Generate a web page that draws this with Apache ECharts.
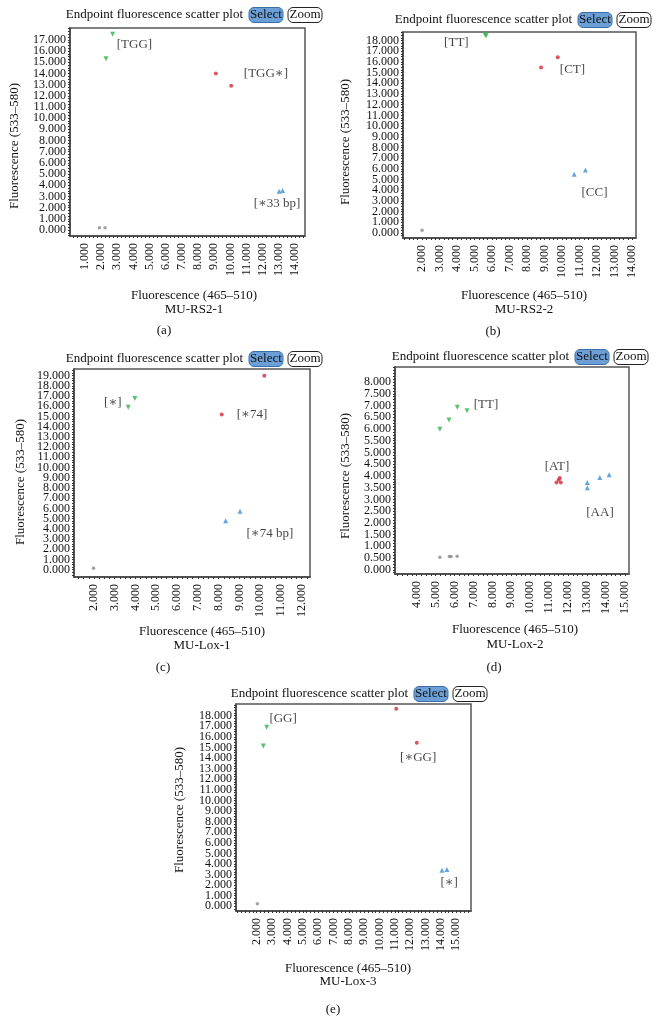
<!DOCTYPE html>
<html>
<head>
<meta charset="utf-8">
<script src="https://cdn.jsdelivr.net/npm/echarts@6/dist/echarts.min.js"></script>
<style>
  html, body { margin: 0; padding: 0; background: #fff; }
  #chart { width: 660px; height: 1030px; }
</style>
</head>
<body>
<div id="chart"></div>
<script>
// tick labels
const xTicksA = [1, 2, 3, 4, 5, 6, 7, 8, 9, 10, 11, 12, 13, 14];
const yTicksA = [0, 1, 2, 3, 4, 5, 6, 7, 8, 9, 10, 11, 12, 13, 14, 15, 16, 17];
const xTicksB = [2, 3, 4, 5, 6, 7, 8, 9, 10, 11, 12, 13, 14];
const yTicksB = [0, 1, 2, 3, 4, 5, 6, 7, 8, 9, 10, 11, 12, 13, 14, 15, 16, 17, 18];
const xTicksC = [2, 3, 4, 5, 6, 7, 8, 9, 10, 11, 12];
const yTicksC = [0, 1, 2, 3, 4, 5, 6, 7, 8, 9, 10, 11, 12, 13, 14, 15, 16, 17, 18, 19];
const xTicksD = [4, 5, 6, 7, 8, 9, 10, 11, 12, 13, 14, 15];
const yTicksD = [0, 0.5, 1, 1.5, 2, 2.5, 3, 3.5, 4, 4.5, 5, 5.5, 6, 6.5, 7, 7.5, 8];
const xTicksE = [2, 3, 4, 5, 6, 7, 8, 9, 10, 11, 12, 13, 14, 15];
const yTicksE = [0, 1, 2, 3, 4, 5, 6, 7, 8, 9, 10, 11, 12, 13, 14, 15, 16, 17, 18];

// points [x, y]
const greenA = [[2.71, 17.5], [2.30, 15.3]];
const redA = [[9.10, 14.0], [10.05, 12.9]];
const blueA = [[13.02, 3.46], [13.23, 3.52]];
const grayA = [[1.89, 0.2], [2.24, 0.2]];

const greenB = [[5.60, 18.55], [5.66, 18.45]];
const redB = [[9.75, 16.44], [8.80, 15.47]];
const blueB = [[10.69, 5.49], [11.33, 5.90]];
const grayB = [[2.0, 0.25]];

const greenC = [[3.97, 16.75], [3.65, 15.9]];
const redC = [[10.2, 19.0], [8.15, 15.2]];
const blueC = [[9.03, 5.71], [8.34, 4.80]];
const grayC = [[1.98, 0.13]];

const greenD = [[5.23, 5.99], [5.71, 6.38], [6.15, 6.93], [6.66, 6.78]];
const redD = [[11.56, 3.91], [11.50, 3.84], [11.38, 3.72], [11.61, 3.72]];
const blueD = [[13.01, 3.72], [13.01, 3.49], [13.67, 3.93], [14.16, 4.05]];
const grayD = [[5.23, 0.53], [5.73, 0.57], [5.82, 0.57], [6.14, 0.58]];

const greenE = [[2.65, 16.9], [2.43, 15.13]];
const redE = [[11.09, 18.66], [12.43, 15.45]];
const blueE = [[14.07, 3.40], [14.39, 3.47]];
const grayE = [[2.04, 0.25]];

// cluster labels [x, y, text]
const notesA = [[4.06, 16.6, '[TGG]'], [12.2, 13.97, '[TGG∗]'], [12.89, 2.33, '[∗33 bp]']];
const notesB = [[3.96, 17.8, '[TT]'], [10.59, 15.26, '[CT]'], [11.85, 3.77, '[CC]']];
const notesC = [[2.91, 16.36, '[∗]'], [9.61, 15.18, '[∗74]'], [10.47, 3.53, '[∗74 bp]']];
const notesD = [[7.66, 7.03, '[TT]'], [11.41, 4.39, '[AT]'], [13.68, 2.43, '[AA]']];
const notesE = [[3.72, 17.69, '[GG]'], [12.52, 14.0, '[∗GG]'], [14.54, 2.27, '[∗]']];

const samples = ['MU-RS2-1', 'MU-RS2-2', 'MU-Lox-1', 'MU-Lox-2', 'MU-Lox-3'];
const letters = ['(a)', '(b)', '(c)', '(d)', '(e)'];

const FONT = '"Liberation Serif", "DejaVu Serif", serif';

// layout of each panel (pixels)
const panels = [
  { grid: { left: 70, top: 28, width: 235, height: 208 }, x: [0.07, 14.62], y: [-0.54, 18.06], xt: xTicksA, yt: yTicksA, ym: 0.25,
    green: greenA, red: redA, blue: blueA, gray: grayA, notes: notesA, sel: 249, ty: 15, yn: [15, 146], xn: [194, 296], sy: 310, lx: 164, ly: 331 },
  { grid: { left: 403, top: 32, width: 233, height: 206 }, x: [0.91, 14.22], y: [-0.47, 18.8], xt: xTicksB, yt: yTicksB, ym: 0.25,
    green: greenB, red: redB, blue: blueB, gray: grayB, notes: notesB, sel: 578, ty: 20, yn: [346, 142], xn: [524, 296], sy: 310, lx: 493, ly: 332 },
  { grid: { left: 74, top: 369, width: 236, height: 208 }, x: [1.04, 12.4], y: [-0.72, 19.65], xt: xTicksC, yt: yTicksC, ym: 0.25,
    green: greenC, red: redC, blue: blueC, gray: grayC, notes: notesC, sel: 249, ty: 359, yn: [21, 482], xn: [202, 632], sy: 646, lx: 163, ly: 668 },
  { grid: { left: 395, top: 367, width: 234, height: 207 }, x: [2.86, 15.21], y: [-0.18, 8.64], xt: xTicksD, yt: yTicksD, ym: 0.125,
    green: greenD, red: redD, blue: blueD, gray: grayD, notes: notesD, sel: 575, ty: 357, yn: [346, 476], xn: [515, 630], sy: 645, lx: 494, ly: 668 },
  { grid: { left: 236, top: 704, width: 235, height: 207 }, x: [0.65, 15.96], y: [-0.44, 19.1], xt: xTicksE, yt: yTicksE, ym: 0.25,
    green: greenE, red: redE, blue: blueE, gray: grayE, notes: notesE, sel: 414, ty: 694, yn: [180, 810], xn: [348, 969], sy: 982, lx: 333, ly: 1010 }
];

// minor tick positions along an axis
function steps(lo, hi, step) {
  const out = [];
  for (let v = Math.ceil(lo / step) * step; v <= hi + 1e-9; v += step) out.push(+v.toFixed(4));
  return out;
}

function txt(text, x, y, size, extra, align) {
  return Object.assign({
    type: 'text', x: x, y: y, z: 10,
    style: { text: text, font: size + 'px ' + FONT, fill: '#111',
      align: align || 'center', verticalAlign: 'middle', textAlign: align || 'center', textVerticalAlign: 'middle' }
  }, extra || {});
}

const grids = [], xAxes = [], yAxes = [], series = [], graphics = [];

const yLabelStyle = { margin: 4, fontFamily: FONT, fontSize: 12, color: '#111',
  showMinLabel: true, showMaxLabel: true, hideOverlap: false, formatter: v => v.toFixed(3) };

panels.forEach((p, i) => {
  grids.push(Object.assign({ show: true, borderColor: '#555', borderWidth: 1.5, containLabel: false }, p.grid));
  xAxes.push({
    gridIndex: i, type: 'value', min: p.x[0], max: p.x[1],
    splitLine: { show: false },
    axisLine: { show: true, onZero: false, lineStyle: { color: '#444', width: 1.5 } },
    axisTick: { show: true, length: 2, customValues: steps(p.x[0], p.x[1], 0.25), lineStyle: { color: '#333' } },
    axisLabel: { customValues: p.xt, rotate: 90, margin: 7, fontFamily: FONT, fontSize: 12, color: '#111',
      showMinLabel: true, showMaxLabel: true, formatter: v => v.toFixed(3) }
  });
  // y labels are split over two stacked left axes so close labels are not dropped
  const yMain = yAxes.length;
  yAxes.push({
    gridIndex: i, type: 'value', position: 'left', min: p.y[0], max: p.y[1],
    splitLine: { show: false },
    axisLine: { show: true, onZero: false, lineStyle: { color: '#444', width: 1.5 } },
    axisTick: { show: true, length: 2, customValues: steps(p.y[0], p.y[1], p.ym), lineStyle: { color: '#333' } },
    axisLabel: Object.assign({ customValues: p.yt.filter((v, k) => k % 2 === 0) }, yLabelStyle)
  });
  yAxes.push({
    gridIndex: i, type: 'value', position: 'left', offset: 0, min: p.y[0], max: p.y[1],
    splitLine: { show: false },
    axisLine: { show: false },
    axisTick: { show: false },
    axisLabel: Object.assign({ customValues: p.yt.filter((v, k) => k % 2 === 1) }, yLabelStyle)
  });

  const base = { type: 'scatter', xAxisIndex: i, yAxisIndex: yMain, silent: true };
  series.push(Object.assign({}, base, { data: p.gray, symbol: 'circle', symbolSize: 3.5, itemStyle: { color: '#8a8a8a' } }));
  series.push(Object.assign({}, base, { data: p.green, symbol: 'triangle', symbolRotate: 180, symbolSize: 5, itemStyle: { color: '#2fb34a' } }));
  series.push(Object.assign({}, base, { data: p.red, symbol: 'circle', symbolSize: 4, itemStyle: { color: '#d22b3b' } }));
  series.push(Object.assign({}, base, { data: p.blue, symbol: 'triangle', symbolSize: 5, itemStyle: { color: '#3d8ed8' } }));
  series.push(Object.assign({}, base, {
    data: p.notes, symbolSize: 0,
    label: { show: true, position: 'inside', formatter: d => d.data[2], fontFamily: FONT, fontSize: 13, color: '#111' }
  }));

  // header: title + Select / Zoom buttons
  graphics.push(txt('Endpoint fluorescence scatter plot', p.sel - 6, p.ty, 13, null, 'right'));
  graphics.push({ type: 'rect', z: 9, shape: { x: p.sel, y: p.ty - 7.5, width: 34, height: 15, r: 5 },
    style: { fill: '#6b9fd6', stroke: '#3b6da6', lineWidth: 1 } });
  graphics.push(txt('Select', p.sel + 17, p.ty, 13));
  graphics.push({ type: 'rect', z: 9, shape: { x: p.sel + 39, y: p.ty - 7.5, width: 34, height: 15, r: 5 },
    style: { fill: '#fff', stroke: '#222', lineWidth: 1 } });
  graphics.push(txt('Zoom', p.sel + 56, p.ty, 13));

  // axis names, sample and panel letter
  graphics.push(txt('Fluorescence (533–580)', p.yn[0], p.yn[1], 13, { rotation: Math.PI / 2 }));
  graphics.push(txt('Fluorescence (465–510)', p.xn[0], p.xn[1], 13));
  graphics.push(txt(samples[i], p.xn[0], p.sy, 13));
  graphics.push(txt(letters[i], p.lx, p.ly, 13));
});

const chart = echarts.init(document.getElementById('chart'), null, { renderer: 'canvas' });
chart.setOption({
  animation: false,
  backgroundColor: '#fff',
  grid: grids,
  xAxis: xAxes,
  yAxis: yAxes,
  series: series,
  graphic: graphics
});
</script>
</body>
</html>
